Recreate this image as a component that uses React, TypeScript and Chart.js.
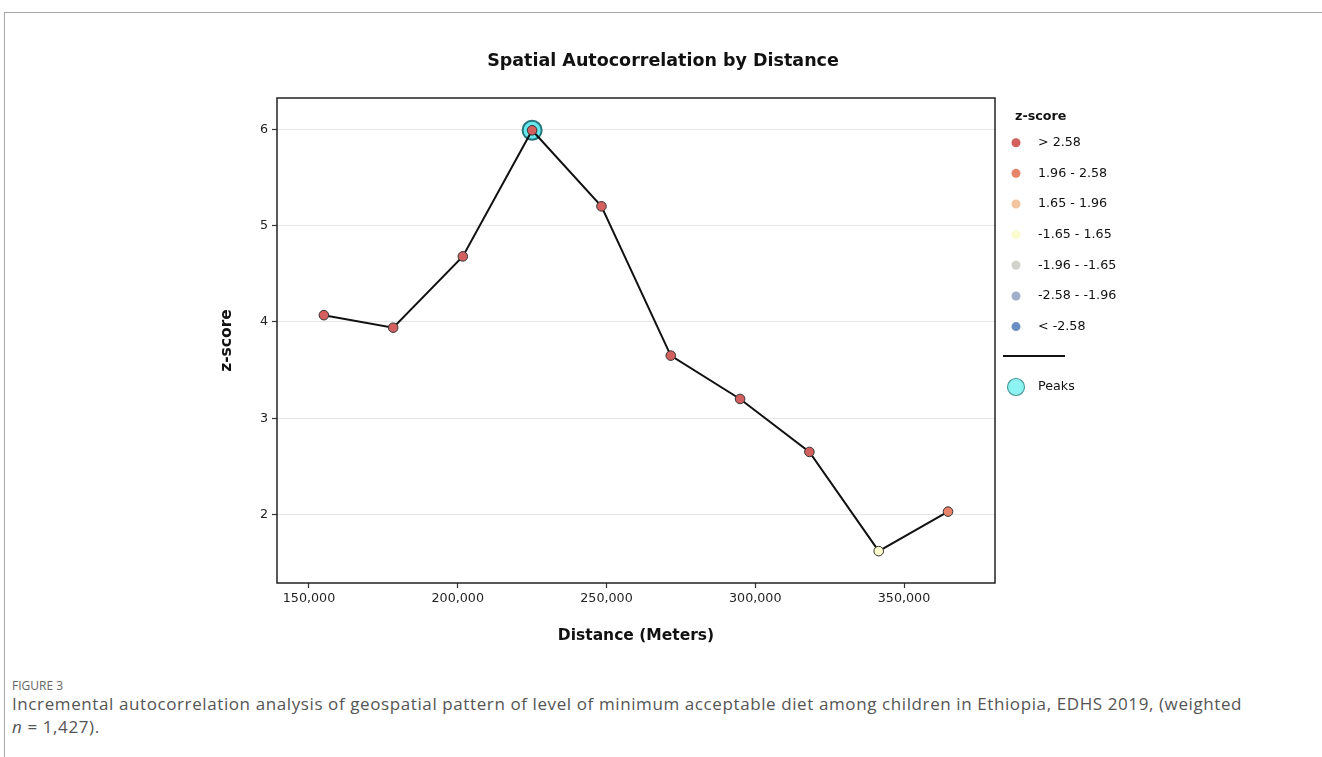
import React, { useEffect, useRef } from "react";
import { Chart, registerables } from "chart.js";

Chart.register(...registerables);

// ---- data ----
const distances = [155000, 178300, 201700, 225000, 248300, 271600, 294900, 318200, 341500, 364800];
const zScores = [4.07, 3.94, 4.68, 5.99, 5.2, 3.65, 3.2, 2.65, 1.62, 2.03];
const peakIndices = [3];
const xTickValues = [150000, 200000, 250000, 300000, 350000];
const yTickValues = [2, 3, 4, 5, 6];
const binLabels = ["> 2.58", "1.96 - 2.58", "1.65 - 1.96", "-1.65 - 1.65", "-1.96 - -1.65", "-2.58 - -1.96", "< -2.58"];
const binColors = ["#d35f5f", "#e8836b", "#f3c4a0", "#fbfbd0", "#cfd3cb", "#9fb0c9", "#6a8fc1"];
const binLower = [2.58, 1.96, 1.65, -1.65, -1.96, -2.58, -Infinity];

const X_MIN = 139244;
const X_MAX = 380588;
const Y_MIN = 1.289;
const Y_MAX = 6.325;

function zColor(v: number): string {
  for (let i = 0; i < binLower.length; i++) {
    if (v > binLower[i]) return binColors[i];
  }
  return binColors[binColors.length - 1];
}

const FONT = "'DejaVu Sans', sans-serif";

const decorPlugin = {
  id: "decor",
  afterDraw(chart: any) {
    const { ctx, chartArea: a } = chart;
    ctx.save();
    // plot frame
    ctx.strokeStyle = "#222";
    ctx.lineWidth = 1.5;
    ctx.strokeRect(a.left, a.top, a.right - a.left, a.bottom - a.top);

    // title & axis titles
    ctx.fillStyle = "#111";
    ctx.textAlign = "center";
    ctx.textBaseline = "middle";
    const cx = (a.left + a.right) / 2;
    ctx.font = `bold 17.5px ${FONT}`;
    ctx.fillText("Spatial Autocorrelation by Distance", 663, 61);
    ctx.font = `bold 15.5px ${FONT}`;
    ctx.fillText("Distance (Meters)", cx, 636);
    ctx.save();
    ctx.translate(227, (a.top + a.bottom) / 2);
    ctx.rotate(-Math.PI / 2);
    ctx.fillText("z-score", 0, 0);
    ctx.restore();

    // legend
    const mx = a.right + 21;
    const tx = a.right + 43;
    ctx.textAlign = "left";
    ctx.font = `bold 12.7px ${FONT}`;
    ctx.fillText("z-score", a.right + 20, 117);
    ctx.font = `12.7px ${FONT}`;
    binLabels.forEach((lab, i) => {
      const y = 142.7 + i * 30.65;
      ctx.beginPath();
      ctx.arc(mx, y, 4.5, 0, Math.PI * 2);
      ctx.fillStyle = binColors[i];
      ctx.fill();
      ctx.fillStyle = "#111";
      ctx.fillText(lab, tx, y);
    });
    ctx.beginPath();
    ctx.moveTo(a.right + 8, 356);
    ctx.lineTo(a.right + 70, 356);
    ctx.strokeStyle = "#111";
    ctx.lineWidth = 2;
    ctx.stroke();
    ctx.beginPath();
    ctx.arc(mx, 387, 8.5, 0, Math.PI * 2);
    ctx.fillStyle = "#8ef3f3";
    ctx.fill();
    ctx.strokeStyle = "#4a9a9a";
    ctx.lineWidth = 1.2;
    ctx.stroke();
    ctx.fillStyle = "#111";
    ctx.fillText("Peaks", tx, 387);
    ctx.restore();
  },
};

export default function App() {
  const ref = useRef<HTMLCanvasElement>(null);

  useEffect(() => {
    const chart = new Chart(ref.current as HTMLCanvasElement, {
      type: "scatter",
      data: {
        datasets: [
          {
            data: distances.map((x, i) => ({ x, y: zScores[i] })),
            showLine: true,
            borderColor: "#111",
            borderWidth: 2,
            pointRadius: 4.8,
            pointBackgroundColor: zScores.map(zColor),
            pointBorderColor: "#333",
            pointBorderWidth: 1,
            order: 1,
          },
          {
            data: peakIndices.map((i) => ({ x: distances[i], y: zScores[i] })),
            showLine: false,
            pointRadius: 9.5,
            pointBackgroundColor: "#66e8ee",
            pointBorderColor: "#23757b",
            pointBorderWidth: 2,
            order: 2,
          },
        ],
      },
      options: {
        animation: false,
        responsive: true,
        maintainAspectRatio: false,
        layout: { padding: { left: 200, right: 327, top: 98, bottom: 37 } },
        plugins: {
          legend: { display: false },
          title: { display: false },
          tooltip: { enabled: false },
        },
        scales: {
          x: {
            type: "linear",
            min: X_MIN,
            max: X_MAX,
            afterBuildTicks: (s: any) => {
              s.ticks = xTickValues.map((v) => ({ value: v }));
            },
            afterFit: (s: any) => {
              s.height = 40;
            },
            ticks: {
              callback: (v: any) => Number(v).toLocaleString("en-US"),
              font: { family: FONT, size: 12.7 },
              color: "#222",
              padding: 3,
              maxRotation: 0,
              autoSkip: false,
            },
            grid: { drawOnChartArea: false, tickLength: 5, tickColor: "#333", tickWidth: 1.2 },
            border: { display: false },
          },
          y: {
            type: "linear",
            min: Y_MIN,
            max: Y_MAX,
            afterBuildTicks: (s: any) => {
              s.ticks = yTickValues.map((v) => ({ value: v }));
            },
            afterFit: (s: any) => {
              s.width = 77;
            },
            ticks: {
              font: { family: FONT, size: 12.7 },
              color: "#222",
              padding: 4,
              autoSkip: false,
            },
            grid: { color: "#e6e6e6", lineWidth: 1, tickLength: 5, tickColor: "#333", tickWidth: 1.2 },
            border: { display: false },
          },
        },
      },
      plugins: [decorPlugin],
    });
    return () => chart.destroy();
  }, []);

  return (
    <div style={{ position: "absolute", left: 0, top: 0, width: 1322, height: 757, overflow: "hidden", background: "#fff" }}>
      <div
        style={{
          position: "absolute",
          left: 4,
          top: 12,
          right: 0,
          bottom: 0,
          borderTop: "1px solid #a8a8a8",
          borderLeft: "1px solid #a8a8a8",
        }}
      />
      <div style={{ position: "absolute", left: 0, top: 0, width: 1322, height: 660 }}>
        <canvas ref={ref} />
      </div>
      <div style={{ position: "absolute", left: 12, top: 680, width: 1305, fontFamily: "'Open Sans', sans-serif", color: "#555" }}>
        <div style={{ fontSize: 12, lineHeight: "12px", color: "#666" }}>FIGURE 3</div>
        <div style={{ fontSize: 17, lineHeight: "23px", letterSpacing: "0.6px", whiteSpace: "nowrap" }}>
          Incremental autocorrelation analysis of geospatial pattern of level of minimum acceptable diet among children in Ethiopia, EDHS 2019, (weighted
          <br />
          <i>n</i>&nbsp;=&nbsp;1,427).
        </div>
      </div>
    </div>
  );
}
